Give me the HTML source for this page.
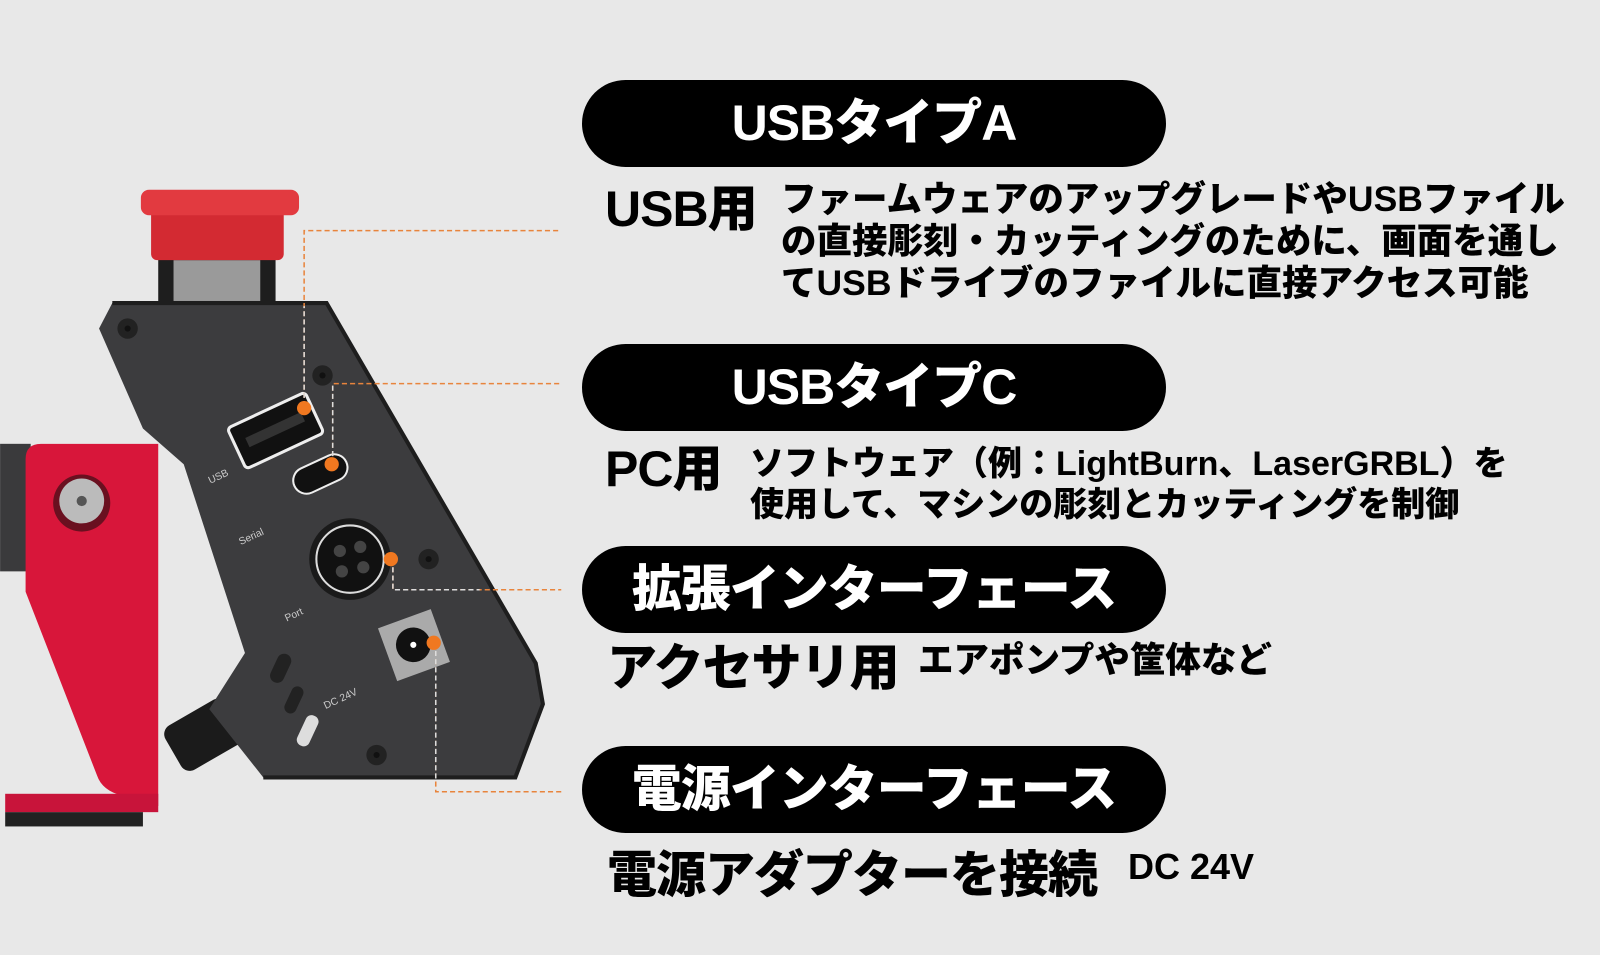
<!DOCTYPE html>
<html><head><meta charset="utf-8"><style>
body{margin:0;width:1600px;height:955px;background:#e8e8e8;overflow:hidden;position:relative;font-family:"Liberation Sans","Noto Sans CJK JP",sans-serif;}
.pill{position:absolute;left:582px;width:584px;height:87px;border-radius:44px;background:#000;color:#fff;text-align:center;font:900 50px/87px "Liberation Sans","Noto Sans CJK JP",sans-serif;letter-spacing:-1px;}
.t{position:absolute;color:#000;font-family:"Liberation Sans","Noto Sans CJK JP",sans-serif;font-weight:900;white-space:nowrap;}
.big{font-size:50px;line-height:52px;letter-spacing:-1px;}
.d{font-size:35.5px;line-height:42px;letter-spacing:0;}
svg{position:absolute;left:0;top:0;}
</style></head><body>
<svg width="1600" height="955" viewBox="0 0 1568 936">
 <rect x="0" y="435" width="30" height="125" fill="#3a3a3c"/>
 <path d="M40 435 H155 V790 L120 780 Q100 775 95 760 L25 580 V450 Q25 435 40 435Z" fill="#d8163a"/>
 <rect x="5" y="778" width="150" height="18" fill="#c8143a"/>
 <rect x="5" y="796" width="135" height="14" fill="#222"/>
 <circle cx="80" cy="493" r="28" fill="#6a1020"/><circle cx="80" cy="491" r="22" fill="#bbb"/><circle cx="80" cy="491" r="5" fill="#555"/>
 <rect x="155" y="245" width="115" height="55" fill="#1e1e1e"/>
 <rect x="170" y="255" width="85" height="40" fill="#9a9a9a"/>
 <rect x="148" y="205" width="130" height="50" rx="6" fill="#d32a32"/>
 <rect x="138" y="186" width="155" height="25" rx="8" fill="#e23a40"/>
 <rect x="165" y="695" width="70" height="50" rx="10" fill="#1b1b1b" transform="rotate(-30 200 720)"/>
 <path d="M97 322 L110 297 H320 L525 650 L532 690 L505 762 H258 L205 695 L240 640 L180 455 L140 420 L97 322Z" fill="#3c3c3e"/>
 <path d="M110 297 H320 L525 650 L532 690 L505 762 H258" fill="none" stroke="#1e1e1e" stroke-width="4"/>
 <g fill="#222"><circle cx="125" cy="322" r="10"/><circle cx="316" cy="368" r="10"/><circle cx="420" cy="548" r="10"/><circle cx="369" cy="740" r="10"/></g>
 <g fill="#111"><circle cx="125" cy="322" r="3"/><circle cx="316" cy="368" r="3"/><circle cx="420" cy="548" r="3"/><circle cx="369" cy="740" r="3"/></g>
 <g transform="rotate(-25 270 422)"><rect x="228" y="400" width="84" height="44" rx="4" fill="#111" stroke="#eee" stroke-width="3"/><rect x="240" y="416" width="60" height="10" fill="#333"/></g>
 <g transform="rotate(-25 313 465)"><rect x="286" y="452" width="56" height="26" rx="13" fill="#111" stroke="#eee" stroke-width="2"/></g>
 <circle cx="343" cy="548" r="40" fill="#1a1a1a"/><circle cx="343" cy="548" r="33" fill="#111" stroke="#ddd" stroke-width="2"/>
 <g fill="#444"><circle cx="333" cy="540" r="6"/><circle cx="353" cy="536" r="6"/><circle cx="335" cy="560" r="6"/><circle cx="356" cy="556" r="6"/></g>
 <g transform="rotate(-20 405 632)"><rect x="378" y="605" width="55" height="55" fill="#aaa"/><circle cx="405" cy="632" r="17" fill="#111"/><circle cx="405" cy="632" r="3" fill="#fff"/></g>
 <g fill="#222"><rect x="268" y="640" width="14" height="30" rx="7" transform="rotate(25 275 655)"/><rect x="282" y="672" width="12" height="28" rx="6" transform="rotate(25 288 686)"/></g>
 <rect x="295" y="700" width="13" height="32" rx="6" fill="#ddd" transform="rotate(25 301 716)"/>
 <g fill="#ccc" font-family="Liberation Sans" font-size="10"><text x="205" y="470" transform="rotate(-25 215 470)">USB</text><text x="235" y="530" transform="rotate(-25 245 530)">Serial</text><text x="280" y="605" transform="rotate(-25 290 605)">Port</text><text x="318" y="690" transform="rotate(-25 330 690)">DC 24V</text></g>
 <g fill="none" stroke="#e8843c" stroke-width="1.5" stroke-dasharray="5 3">
  <path d="M298 398 V226 H550"/><path d="M326 455 V376 H550"/><path d="M385 548 V578 H550"/><path d="M427 630 V776 H550"/>
 </g>
 <g fill="none" stroke="#ddd" stroke-width="1.5" stroke-dasharray="5 3">
  <path d="M298 398 V300"/><path d="M326 455 V378"/><path d="M385 548 V578 H470"/><path d="M427 630 V765"/>
 </g>
 <g fill="#f07820"><circle cx="298" cy="400" r="7"/><circle cx="325" cy="455" r="7"/><circle cx="383" cy="548" r="7"/><circle cx="425" cy="630" r="7"/></g>
</svg>

<div class="pill" style="top:80px">USBタイプA</div>
<div class="pill" style="top:344px">USBタイプC</div>
<div class="pill" style="top:546px">拡張インターフェース</div>
<div class="pill" style="top:746px">電源インターフェース</div>

<div class="t big" style="left:605px;top:183px">USB用</div>
<div class="t d" style="left:781px;top:178px">ファームウェアのアップグレードやUSBファイル<br>の直接彫刻・カッティングのために、画面を通し<br>てUSBドライブのファイルに直接アクセス可能</div>

<div class="t big" style="left:605px;top:443px">PC用</div>
<div class="t d" style="left:750px;top:444px;line-height:41px;font-size:34px">ソフトウェア（例：LightBurn、LaserGRBL）を<br>使用して、マシンの彫刻とカッティングを制御</div>

<div class="t big" style="left:607px;top:642px">アクセサリ用</div>
<div class="t d" style="left:918px;top:639px">エアポンプや筐体など</div>

<div class="t big" style="left:607px;top:849px">電源アダプターを接続</div>
<div class="t" style="left:1128px;top:846px;font-size:36px;line-height:42px">DC 24V</div>
</body></html>
